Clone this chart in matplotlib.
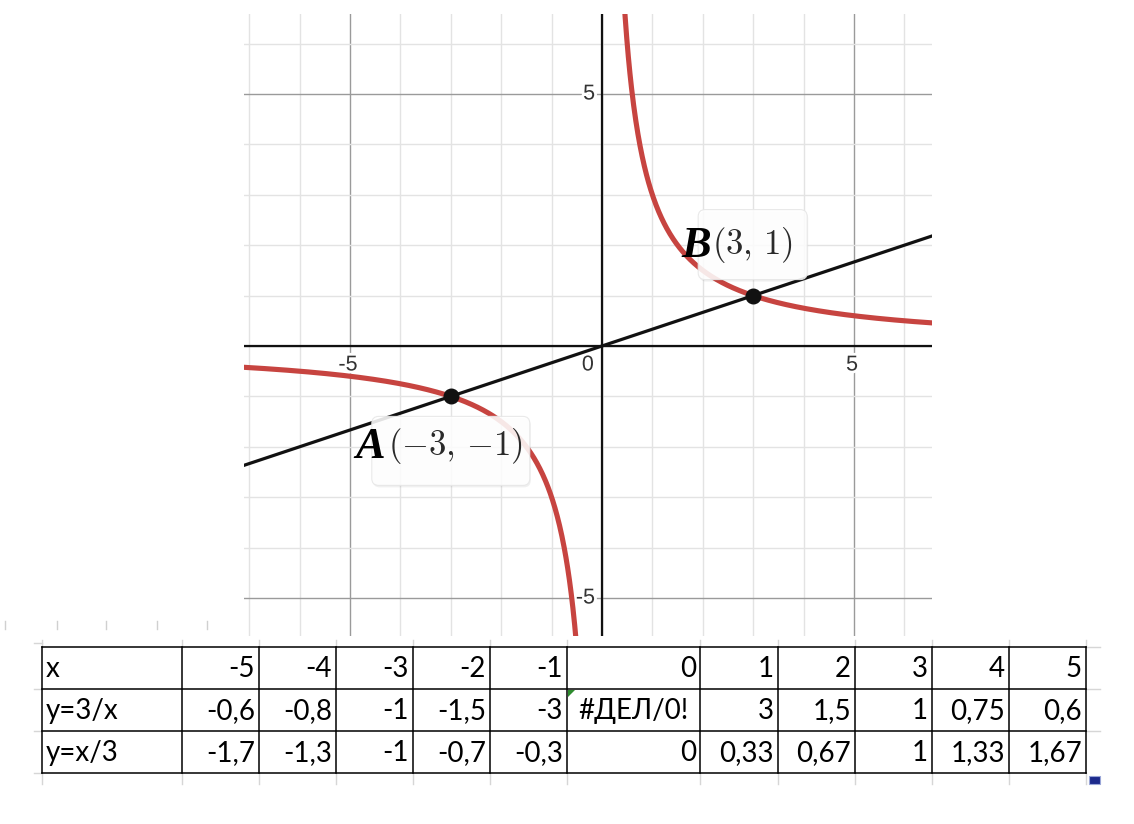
import numpy as np
import matplotlib
matplotlib.use("Agg")
import matplotlib.pyplot as plt
from matplotlib.patches import FancyBboxPatch, Polygon, Rectangle
from matplotlib.transforms import IdentityTransform
import matplotlib.patheffects as pe

# ---------------- data ----------------
K = 3                      # y = K / x
LINE_SLOPE = 1 / 3         # y = x / 3
point_names = ["B", "A"]
point_x = [3, -3]
point_y = [1, -1]

x_tick_values = [-5, 5]
y_tick_values = [5, -5]

row_labels = ["x", "y=3/x", "y=x/3"]
x_values = ["-5", "-4", "-3", "-2", "-1", "0", "1", "2", "3", "4", "5"]
y_recip_values = ["-0,6", "-0,8", "-1", "-1,5", "-3", "#ДЕЛ/0!", "3", "1,5", "1", "0,75", "0,6"]
y_lin_values = ["-1,7", "-1,3", "-1", "-0,7", "-0,3", "0", "0,33", "0,67", "1", "1,33", "1,67"]

# ---------------- figure ----------------
W, H = 1134, 824
fig = plt.figure(figsize=(W / 100, H / 100), dpi=100)
plt.rcParams["mathtext.fontset"] = "cm"

ax = fig.add_axes([244 / W, 1 - 636 / H, 688 / W, 622 / H])
XMIN, XMAX = -7.103, 6.548
YMIN, YMAX = -5.754, 6.587
ax.set_xlim(XMIN, XMAX)
ax.set_ylim(YMIN, YMAX)
for s in ax.spines.values():
    s.set_visible(False)
ax.set_xticks([])
ax.set_yticks([])

# grid
for v in range(-7, 7):
    c = "#9a9a9a" if v % 5 == 0 else "#e3e3e3"
    ax.axvline(v, color=c, lw=1.0, zorder=1)
for v in range(-5, 7):
    c = "#9a9a9a" if v % 5 == 0 else "#e3e3e3"
    ax.axhline(v, color=c, lw=1.0, zorder=1)
ax.axhline(0, color="#111111", lw=1.6, zorder=2)
ax.axvline(0, color="#111111", lw=1.6, zorder=2)

halo = [pe.withStroke(linewidth=4, foreground="white")]
tick_font = dict(family=["Liberation Sans", "DejaVu Sans"], fontsize=15.5, color="#333333")
for v in x_tick_values:
    ax.annotate(f"{v}", xy=(v, 0), xytext=(-2, -19), textcoords="offset pixels",
                ha="center", va="center", zorder=3, path_effects=halo, **tick_font)
for v in y_tick_values:
    ax.annotate(f"{v}", xy=(0, v), xytext=(-7, 0), textcoords="offset pixels",
                ha="right", va="center", zorder=3, path_effects=halo, **tick_font)
ax.annotate("0", xy=(0, 0), xytext=(-8, -19), textcoords="offset pixels",
            ha="right", va="center", zorder=3, path_effects=halo, **tick_font)

# curves
xn = np.linspace(XMIN - 0.1, -0.3, 600)
xp = np.linspace(0.3, XMAX + 0.1, 600)
red = "#c74440"
ax.plot(xn, K / xn, color=red, lw=3.7, zorder=4, solid_capstyle="butt")
ax.plot(xp, K / xp, color=red, lw=3.7, zorder=4, solid_capstyle="butt")
xl = np.array([XMIN - 0.1, XMAX + 0.1])
ax.plot(xl, LINE_SLOPE * xl, color="#111111", lw=2.3, zorder=5)
ax.scatter(point_x, point_y, s=110, color="#111111", zorder=8)

# labels with boxes
fig.canvas.draw()
label_cfg = {
    # box (dx0, dy0, w, h) in pixels relative to point (display coords, y up), letter dx, text dx, dy
    "B": ((-55, 16, 109, 70), -72, -41, 50),
    "A": ((-79, -89, 158, 69), -95, -63, -51),
}


def fmt(v):
    return f"{{{v}}}" if v < 0 else f"{v}"


for name, x, y in zip(point_names, point_x, point_y):
    (bx, by, bw, bh), ldx, tdx, tdy = label_cfg[name]
    px, py = ax.transData.transform((x, y))
    shadow = FancyBboxPatch((px + bx + 1, py + by - 2), bw, bh,
                            boxstyle="round,pad=0,rounding_size=7", transform=IdentityTransform(),
                            facecolor="#000000", alpha=0.06, edgecolor="none", zorder=6)
    box = FancyBboxPatch((px + bx, py + by), bw, bh,
                         boxstyle="round,pad=0,rounding_size=7", transform=IdentityTransform(),
                         facecolor="white", alpha=0.88, edgecolor="#e6e6e6", lw=0.8, zorder=6.5)
    ax.add_patch(shadow)
    ax.add_patch(box)
    ax.annotate(name, xy=(x, y), xytext=(ldx, tdy), textcoords="offset pixels",
                ha="left", va="center", fontsize=32, fontweight="bold", fontstyle="italic",
                family=["Liberation Serif", "DejaVu Serif"], color="black", zorder=9)
    ax.annotate(f"$({fmt(x)},\\,{fmt(y)})$", xy=(x, y), xytext=(tdx, tdy + 1),
                textcoords="offset pixels", ha="left", va="center", fontsize=25,
                color="#2a2a2a", zorder=9)

# ---------------- table ----------------
tx = fig.add_axes([0, 0, 1, 1], zorder=10)
tx.set_xlim(0, W)
tx.set_ylim(H, 0)
tx.axis("off")
tx.patch.set_alpha(0)

col_edges = [42, 182, 259, 336, 413, 490, 567, 700, 778, 855, 932, 1009, 1086]
row_edges = [647, 689, 731, 773]
faint = "#d6d6d6"

# excel column header remnants
for xh in [5, 57, 106, 157, 207]:
    tx.plot([xh, xh], [621, 629], color="#d0d0d0", lw=1.0)
# faint sheet gridlines
for ye in row_edges:
    yy = ye - 4 if ye == 647 else ye
    tx.plot([34, 42], [yy, yy], color=faint, lw=1.0)
    if ye != 773:
        tx.plot([1086, 1100], [ye, ye], color=faint, lw=1.0)
for xe in col_edges:
    tx.plot([xe, xe], [640, 647], color=faint, lw=1.0)
    tx.plot([xe, xe], [773, 784], color=faint, lw=1.0)

for ye in row_edges:
    tx.plot([col_edges[0], col_edges[-1]], [ye, ye], color="black", lw=1.1)
for xe in col_edges:
    tx.plot([xe, xe], [row_edges[0], row_edges[-1]], color="black", lw=1.1)

cell_font = dict(family=["Lato", "DejaVu Sans"], fontsize=20, color="black")
rows = [x_values, y_recip_values, y_lin_values]
for r, (lab, vals) in enumerate(zip(row_labels, rows)):
    yc = (row_edges[r] + row_edges[r + 1]) / 2 + 1
    tx.text(col_edges[0] + 4, yc, lab, ha="left", va="center", **cell_font)
    for c, v in enumerate(vals):
        x0, x1 = col_edges[c + 1], col_edges[c + 2]
        if v.startswith("#"):
            tx.text((x0 + x1) / 2, yc, v, ha="center", va="center", **cell_font)
        else:
            tx.text(x1 - 4, yc, v, ha="right", va="center", **cell_font)

# error indicator triangle and fill handle
tx.add_patch(Polygon([[568, 690], [575, 690], [568, 697]], closed=True, color="#2e8b2e", lw=0))
tx.add_patch(Rectangle((1089, 776), 11, 8, facecolor="#1c2a8c", edgecolor="#9aa6d8", lw=0.8))

fig.savefig("out.png", dpi=100)
